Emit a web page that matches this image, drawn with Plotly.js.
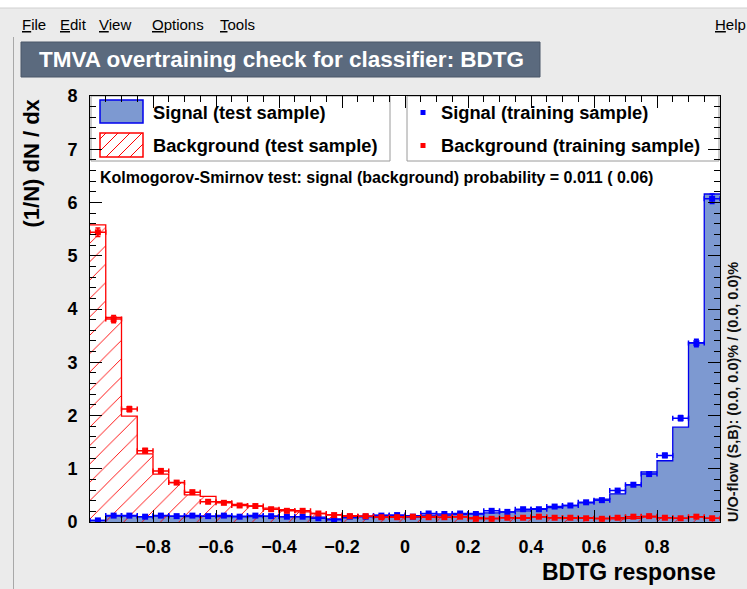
<!DOCTYPE html>
<html>
<head>
<meta charset="utf-8">
<script src="https://cdn.plot.ly/plotly-3.0.1.min.js"></script>
<style>
  html, body { margin: 0; padding: 0; background: #ebebeb; }
  #plot { width: 747px; height: 589px; }
</style>
</head>
<body>
<div id="plot"></div>
<script>
// BDTG response histograms: 40 bins between -1 and 1
const xMin = -1, xMax = 1, nBins = 40;

const signalTest = [0.03, 0.11, 0.11, 0.10, 0.11, 0.11, 0.10, 0.11, 0.10, 0.11,
                    0.10, 0.11, 0.10, 0.10, 0.09, 0.06, 0.08, 0.11, 0.13, 0.12,
                    0.12, 0.13, 0.13, 0.14, 0.16, 0.17, 0.19, 0.21, 0.25, 0.27,
                    0.31, 0.36, 0.43, 0.53, 0.70, 0.94, 1.15, 1.78, 3.37, 6.16];

const backgroundTest = [5.58, 3.84, 1.99, 1.28, 0.90, 0.74, 0.51, 0.48, 0.38, 0.33,
                        0.30, 0.26, 0.23, 0.19, 0.16, 0.14, 0.12, 0.11, 0.10, 0.10,
                        0.09, 0.10, 0.09, 0.09, 0.08, 0.07, 0.08, 0.07, 0.09, 0.08,
                        0.07, 0.08, 0.07, 0.06, 0.07, 0.09, 0.08, 0.07, 0.09, 0.07];

const signalTrain = [0.03, 0.12, 0.12, 0.10, 0.12, 0.11, 0.12, 0.11, 0.12, 0.10,
                     0.12, 0.11, 0.10, 0.10, 0.07, 0.04, 0.10, 0.10, 0.12, 0.13,
                     0.10, 0.16, 0.15, 0.16, 0.15, 0.21, 0.19, 0.24, 0.24, 0.29,
                     0.31, 0.37, 0.41, 0.59, 0.70, 0.90, 1.25, 1.95, 3.36, 6.07];

const signalTrainErr = [0.01, 0.015, 0.015, 0.015, 0.015, 0.015, 0.015, 0.015, 0.015, 0.015,
                        0.015, 0.015, 0.015, 0.015, 0.012, 0.01, 0.015, 0.015, 0.015, 0.015,
                        0.015, 0.02, 0.02, 0.02, 0.02, 0.02, 0.02, 0.02, 0.02, 0.025,
                        0.025, 0.025, 0.03, 0.03, 0.03, 0.035, 0.04, 0.05, 0.07, 0.09];

const backgroundTrain = [5.44, 3.81, 2.12, 1.34, 0.96, 0.74, 0.56, 0.38, 0.36, 0.31,
                         0.30, 0.24, 0.21, 0.21, 0.16, 0.13, 0.11, 0.11, 0.09, 0.09,
                         0.10, 0.09, 0.09, 0.10, 0.06, 0.06, 0.08, 0.08, 0.10, 0.08,
                         0.08, 0.07, 0.06, 0.08, 0.10, 0.11, 0.08, 0.07, 0.10, 0.07];

const backgroundTrainErr = [0.08, 0.07, 0.05, 0.04, 0.035, 0.03, 0.03, 0.025, 0.02, 0.02,
                            0.02, 0.02, 0.02, 0.02, 0.015, 0.015, 0.015, 0.015, 0.015, 0.015,
                            0.015, 0.015, 0.015, 0.015, 0.012, 0.012, 0.015, 0.015, 0.015, 0.015,
                            0.015, 0.015, 0.012, 0.012, 0.015, 0.015, 0.015, 0.015, 0.015, 0.015];

const xTickVals = [-0.8, -0.6, -0.4, -0.2, 0, 0.2, 0.4, 0.6, 0.8];
const xTickText = ['\u22120.8', '\u22120.6', '\u22120.4', '\u22120.2', '0', '0.2', '0.4', '0.6', '0.8'];

const titleText = 'TMVA overtraining check for classifier: BDTG';
const legendLabels = ['Signal (test sample)', 'Background (test sample)',
                      'Signal (training sample)', 'Background (training sample)'];
const ksText = 'Kolmogorov-Smirnov test: signal (background) probability = 0.011 ( 0.06)';
const flowText = 'U/O-flow (S,B): (0.0, 0.0)% / (0.0, 0.0)%';
const menuItems = [['<u>F</u>ile', 20], ['<u>E</u>dit', 58], ['<u>V</u>iew', 97],
                   ['<u>O</u>ptions', 150], ['<u>T</u>ools', 218], ['<u>H</u>elp', 713]];

// Colours
const sigFill = '#7d99d1', sigLine = '#0000ee', sigMark = '#0000ff';
const bkgLine = '#ff0000', bkgMark = '#ff0000';

// Bin geometry
const binWidth = (xMax - xMin) / nBins;
const edges = Array.from({ length: nBins + 1 }, (_, i) => xMin + i * binWidth);
const centers = edges.slice(0, nBins).map(e => e + binWidth / 2);
const stepY = v => v.concat([v[v.length - 1]]);

// Page geometry (pixels) and helpers to convert to paper coordinates
const W = 747, H = 589, ML = 90, MR = 27, MT = 96, MB = 67;
const PW = W - ML - MR, PH = H - MT - MB;
const px = p => (p - ML) / PW;
const py = p => (H - MB - p) / PH;

const font = 'Liberation Sans, Arial, Helvetica, sans-serif';

const traces = [
  {
    x: edges, y: stepY(signalTest), type: 'scatter', mode: 'lines',
    line: { shape: 'hv', color: sigLine, width: 1.3 },
    fill: 'tozeroy', fillcolor: sigFill, hoverinfo: 'skip', showlegend: false
  },
  {
    x: edges, y: stepY(backgroundTest), type: 'scatter', mode: 'lines',
    line: { shape: 'hv', color: bkgLine, width: 1.3 },
    fill: 'tozeroy', fillcolor: 'rgba(0,0,0,0)',
    fillpattern: { shape: '/', fgcolor: bkgLine, bgcolor: 'rgba(0,0,0,0)', size: 13, solidity: 0.07, fillmode: 'replace' },
    hoverinfo: 'skip', showlegend: false
  },
  {
    x: centers, y: signalTrain, type: 'scatter', mode: 'markers',
    marker: { symbol: 'square', size: 6, color: sigMark },
    error_x: { type: 'constant', value: binWidth / 2, width: 2.5, thickness: 1.5, color: sigMark },
    error_y: { type: 'data', array: signalTrainErr, width: 2.5, thickness: 1.5, color: sigMark },
    showlegend: false
  },
  {
    x: centers, y: backgroundTrain, type: 'scatter', mode: 'markers',
    marker: { symbol: 'square', size: 6, color: bkgMark },
    error_x: { type: 'constant', value: binWidth / 2, width: 2.5, thickness: 1.5, color: bkgMark },
    error_y: { type: 'data', array: backgroundTrainErr, width: 2.5, thickness: 1.5, color: bkgMark },
    showlegend: false
  }
];

// Diagonal hatch for the background legend swatch
function hatchPath(x0, y0, x1, y1, s) {
  let d = '';
  for (let c = x0 + y0 + s / 2; c < x1 + y1; c += s) {
    const a = Math.max(x0, c - y1), b = Math.min(x1, c - y0);
    if (b <= a) continue;
    d += 'M' + px(a) + ',' + py(c - a) + ' L' + px(b) + ',' + py(c - b) + ' ';
  }
  return d;
}

const rect = (x0, y0, x1, y1, opts) => Object.assign({
  type: 'rect', xref: 'paper', yref: 'paper',
  x0: px(x0), x1: px(x1), y0: py(y1), y1: py(y0), layer: 'below'
}, opts);

const shapes = [
  // window chrome
  rect(0, 0, W, 8, { fillcolor: '#ffffff', line: { width: 0 } }),
  { type: 'line', xref: 'paper', yref: 'paper', x0: px(0), x1: px(W), y0: py(8), y1: py(8), line: { color: '#d0d0d0', width: 1 } },
  { type: 'line', xref: 'paper', yref: 'paper', x0: px(13.5), x1: px(13.5), y0: py(37), y1: py(H), line: { color: '#a8a8a8', width: 1 } },
  // title box
  rect(21, 42, 540, 77, { fillcolor: '#5b6a7e', line: { color: '#4a5668', width: 1 }, layer: 'above' }),
  // legend boxes
  rect(91, 96, 390, 161, { fillcolor: '#ffffff', line: { color: '#9a9a9a', width: 1 } }),
  rect(407, 96, 719, 161, { fillcolor: '#ffffff', line: { color: '#9a9a9a', width: 1 } }),
  // legend swatches
  rect(100, 100, 143, 123, { fillcolor: sigFill, line: { color: sigLine, width: 1.5 } }),
  rect(100, 133, 143, 157, { fillcolor: '#ffffff', line: { color: bkgLine, width: 1.5 } }),
  { type: 'path', xref: 'paper', yref: 'paper', path: hatchPath(100, 133, 143, 157, 12), line: { color: bkgLine, width: 1 }, layer: 'below' },
  rect(420.5, 110, 425.5, 115, { fillcolor: sigMark, line: { width: 0 } }),
  rect(420.5, 143, 425.5, 148, { fillcolor: bkgMark, line: { width: 0 } })
];

const ann = (text, x, y, o) => Object.assign({
  text: text, xref: 'paper', yref: 'paper', x: px(x), y: py(y),
  showarrow: false, xanchor: 'left', yanchor: 'middle',
  font: { family: font, size: 18, color: '#000000', weight: 'bold' }
}, o);

const annotations = [
  ann(titleText, 281, 59.5, { xanchor: 'center', font: { family: font, size: 22.5, color: '#ffffff', weight: 'bold' } }),
  ann(legendLabels[0], 151, 112, { font: { family: font, size: 18.3, color: '#000000', weight: 'bold' } }),
  ann(legendLabels[1], 151, 145, { font: { family: font, size: 18.3, color: '#000000', weight: 'bold' } }),
  ann(legendLabels[2], 439, 112, { font: { family: font, size: 18.3, color: '#000000', weight: 'bold' } }),
  ann(legendLabels[3], 439, 145, { font: { family: font, size: 18.3, color: '#000000', weight: 'bold' } }),
  ann(ksText, 98, 177, { font: { family: font, size: 16, color: '#000000', weight: 'bold' } }),
  ann(flowText, 733, 524, { xanchor: 'center', yanchor: 'bottom', textangle: -90,
      font: { family: font, size: 14.5, color: '#111111', weight: 'bold' } }),
  ann('(1/N) dN / dx', 31, 97, { xanchor: 'center', yanchor: 'top', textangle: -90,
      font: { family: font, size: 22, color: '#000000', weight: 'bold' } }),
  ann('BDTG response', 718, 572, { xanchor: 'right',
      font: { family: font, size: 23, color: '#000000', weight: 'bold' } })
];
menuItems.forEach(m => annotations.push(ann(m[0], m[1], 25, {
  font: { family: font, size: 15, color: '#000000' }
})));

const axisCommon = {
  showline: true, linecolor: '#000000', linewidth: 1, mirror: 'allticks',
  ticks: 'inside', ticklen: 12, tickwidth: 1, tickcolor: '#000000',
  showgrid: false, zeroline: false, fixedrange: true,
  tickfont: { family: font, size: 18, color: '#000000', weight: 'bold' }
};

const layout = {
  width: W, height: H,
  margin: { l: ML, r: MR, t: MT, b: MB, pad: 0 },
  paper_bgcolor: '#ebebeb', plot_bgcolor: '#ffffff',
  showlegend: false,
  xaxis: Object.assign({}, axisCommon, {
    range: [xMin, xMax], tickmode: 'array', tickvals: xTickVals, ticktext: xTickText,
    ticklabelstandoff: 8,
    minor: { tickmode: 'linear', tick0: xMin, dtick: binWidth, ticks: 'inside', ticklen: 6, tickcolor: '#000000', showgrid: false }
  }),
  yaxis: Object.assign({}, axisCommon, {
    range: [0, 8], tickmode: 'linear', tick0: 0, dtick: 1,
    ticklabelstandoff: 8,
    minor: { tickmode: 'linear', tick0: 0, dtick: 0.2, ticks: 'inside', ticklen: 6, tickcolor: '#000000', showgrid: false }
  }),
  shapes: shapes,
  annotations: annotations
};

Plotly.newPlot('plot', traces, layout, { displayModeBar: false, staticPlot: true });
</script>
</body>
</html>
